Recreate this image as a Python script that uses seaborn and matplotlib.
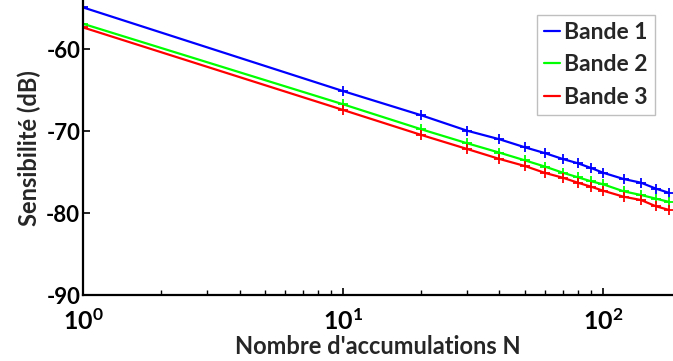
import numpy as np
import pandas as pd
import matplotlib
matplotlib.use("Agg")
import matplotlib.pyplot as plt
import matplotlib.ticker as mticker
import seaborn as sns

N = [1, 10, 20, 30, 40, 50, 60, 70, 80, 90, 100, 120, 140, 160, 180]
bande1 = [-54.9, -65.1, -68.05, -69.93, -70.98, -71.95, -72.68, -73.38, -73.9, -74.48, -75.05, -75.82, -76.27, -77.0, -77.52]
bande2 = [-56.9, -66.71, -69.76, -71.46, -72.61, -73.54, -74.32, -75.05, -75.61, -76.1, -76.46, -77.32, -77.77, -78.22, -78.62]
bande3 = [-57.34, -67.4, -70.45, -72.16, -73.38, -74.23, -75.09, -75.66, -76.27, -76.76, -77.24, -77.98, -78.38, -79.15, -79.6]
series_names = ["Bande 1", "Bande 2", "Bande 3"]
colors = ["#0000ff", "#00ff00", "#ff0000"]
yticks = [-90, -80, -70, -60]
xticks = [1, 10, 100]
xticklabels = [r"$\mathbf{10^{0}}$", r"$\mathbf{10^{1}}$", r"$\mathbf{10^{2}}$"]

df = pd.DataFrame({
    "N": N * 3,
    "S": bande1 + bande2 + bande3,
    "Bande": sum([[n] * len(N) for n in series_names], []),
})

sns.set_style("white")
plt.rcParams["font.family"] = ["Lato", "DejaVu Sans"]
plt.rcParams["font.weight"] = "bold"
plt.rcParams["mathtext.fontset"] = "custom"
plt.rcParams["mathtext.bf"] = "Lato:bold"
plt.rcParams["mathtext.rm"] = "Lato:bold"

fig = plt.figure(figsize=(6.73, 3.61), dpi=100)
ax = fig.add_axes([83 / 673, 65.7 / 361, 1 - 83 / 673, 1 - 65.7 / 361])

sns.lineplot(data=df, x="N", y="S", hue="Bande", palette=colors, ax=ax,
             marker="+", markersize=6.5, linewidth=1.6,
             estimator=None, sort=False)
for ln in ax.lines:
    ln.set_markeredgecolor(ln.get_color())
    ln.set_markeredgewidth(1.3)

ax.set_xscale("log")
ax.set_xlim(1, 186)
ax.set_ylim(-90, -54)
ax.set_yticks(yticks)
ax.set_yticklabels([str(v) for v in yticks])
ax.set_xticks(xticks)
ax.set_xticklabels(xticklabels)
ax.xaxis.set_minor_locator(mticker.LogLocator(base=10, subs=np.arange(2, 10)))
ax.xaxis.set_minor_formatter(mticker.NullFormatter())

for s in ["top", "right"]:
    ax.spines[s].set_visible(False)
for s in ["left", "bottom"]:
    ax.spines[s].set_color("black")
    ax.spines[s].set_linewidth(1.6)

ax.tick_params(axis="y", which="major", direction="in", length=5, width=1.2,
               labelsize=16, colors="black", pad=2)
ax.tick_params(axis="x", which="major", direction="in", length=5, width=1.2,
               labelsize=18, colors="black", pad=9)
ax.tick_params(axis="x", which="minor", direction="in", length=3.5, width=1.0, colors="black")
ax.tick_params(axis="x", which="both", bottom=True)
ax.tick_params(axis="y", which="both", left=True)

ax.set_xlabel("Nombre d'accumulations N", fontsize=17, fontweight="bold", labelpad=1)
ax.set_ylabel("Sensibilité (dB)", fontsize=17, fontweight="bold", labelpad=4)

leg = ax.legend(loc="upper right", bbox_to_anchor=((655 - 83) / 590, 1 - 15 / 295.3),
                frameon=True, fancybox=False, fontsize=16.5, handlelength=0.7,
                handletextpad=0.2, borderpad=0.3, labelspacing=0.5,
                borderaxespad=0, title=None)
leg.get_frame().set_edgecolor("#b0b0b0")
leg.get_frame().set_linewidth(1.0)
for t in leg.get_texts():
    t.set_fontweight("bold")
for h in leg.legend_handles:
    h.set_marker("")

fig.savefig("out.png", dpi=100)
